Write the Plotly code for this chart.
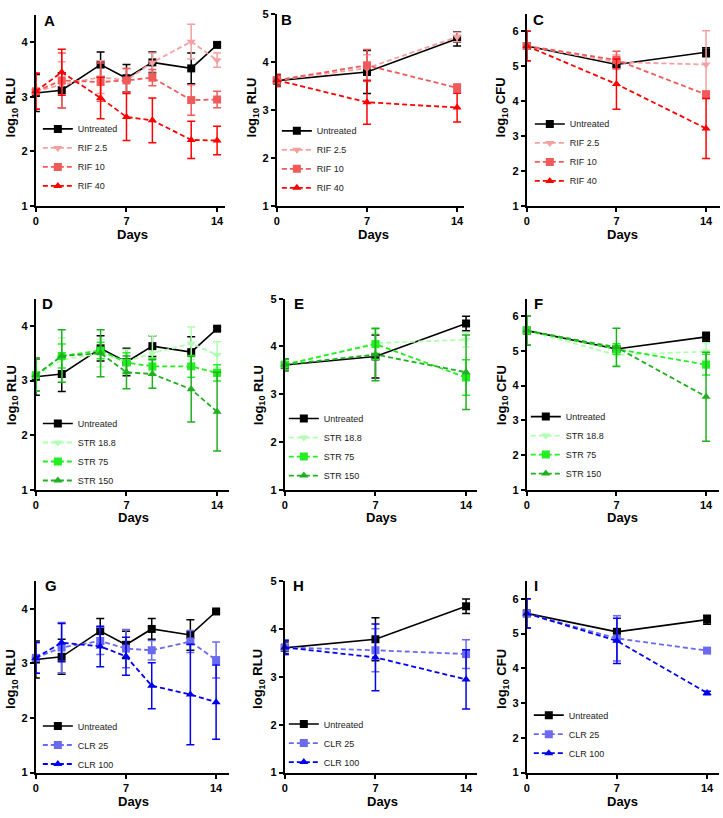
import plotly.graph_objects as go

# ---------------- data ----------------
days_long = [0, 2, 5, 7, 9, 12, 14]
days_short = [0, 7, 14]

# Untreated (shared across rows)
untr_rlu_long = [3.07, 3.12, 3.59, 3.34, 3.63, 3.52, 3.95]
untr_rlu_long_err = [0.34, 0.32, 0.23, 0.25, 0.19, 0.28, 0.03]
untr_rlu_short = [3.61, 3.79, 4.48]
untr_rlu_short_err = [0.12, 0.45, 0.15]
untr_cfu = [5.58, 5.05, 5.40]
untr_cfu_err = [0.42, 0.05, 0.13]

# Panel A (RIF, RLU long)
a_rif25 = [3.10, 3.22, 3.36, 3.30, 3.63, 4.01, 3.67]
a_rif25_err = [0.33, 0.42, 0.30, 0.22, 0.17, 0.32, 0.13]
a_rif10 = [3.10, 3.30, 3.27, 3.30, 3.35, 2.94, 2.95]
a_rif10_err = [0.33, 0.50, 0.35, 0.22, 0.15, 0.28, 0.15]
a_rif40 = [3.10, 3.45, 2.98, 2.63, 2.57, 2.21, 2.20]
a_rif40_err = [0.33, 0.42, 0.38, 0.43, 0.41, 0.34, 0.26]

# Panel B (RIF, RLU short)
b_rif25 = [3.62, 3.87, 4.52]
b_rif25_err = [0.12, 0.28, 0.10]
b_rif10 = [3.62, 3.93, 3.46]
b_rif10_err = [0.12, 0.33, 0.08]
b_rif40 = [3.62, 3.16, 3.05]
b_rif40_err = [0.12, 0.46, 0.30]

# Panel C (RIF, CFU)
c_rif25 = [5.58, 5.12, 5.05]
c_rif25_err = [0.42, 0.20, 0.97]
c_rif10 = [5.58, 5.18, 4.19]
c_rif10_err = [0.42, 0.25, 0.10]
c_rif40 = [5.58, 4.49, 3.22]
c_rif40_err = [0.42, 0.72, 0.86]

# Panel D (STR, RLU long)
d_str188 = [3.10, 3.38, 3.50, 3.35, 3.50, 3.68, 3.47]
d_str188_err = [0.29, 0.40, 0.25, 0.22, 0.32, 0.30, 0.24]
d_str75 = [3.10, 3.45, 3.55, 3.33, 3.26, 3.26, 3.14]
d_str75_err = [0.29, 0.22, 0.15, 0.18, 0.15, 0.20, 0.15]
d_str150 = [3.10, 3.45, 3.50, 3.15, 3.12, 2.84, 2.43]
d_str150_err = [0.29, 0.48, 0.43, 0.30, 0.26, 0.60, 0.72]

# Panel E (STR, RLU short)
e_str188 = [3.62, 4.07, 4.14]
e_str188_err = [0.12, 0.20, 0.15]
e_str75 = [3.62, 4.05, 3.35]
e_str75_err = [0.12, 0.32, 0.37]
e_str150 = [3.62, 3.83, 3.46]
e_str150_err = [0.12, 0.55, 0.78]

# Panel F (STR, CFU)
f_str188 = [5.58, 4.88, 4.98]
f_str188_err = [0.42, 0.30, 0.25]
f_str75 = [5.58, 5.05, 4.60]
f_str75_err = [0.42, 0.15, 0.30]
f_str150 = [5.58, 5.10, 3.68]
f_str150_err = [0.42, 0.55, 1.28]

# Panel G (CLR, RLU long)
g_clr25 = [3.10, 3.29, 3.41, 3.27, 3.24, 3.40, 3.06]
g_clr25_err = [0.28, 0.46, 0.25, 0.35, 0.18, 0.20, 0.33]
g_clr100 = [3.10, 3.38, 3.31, 3.13, 2.59, 2.43, 2.29]
g_clr100_err = [0.28, 0.35, 0.37, 0.35, 0.42, 0.92, 0.68]

# Panel H (CLR, RLU short)
h_clr25 = [3.62, 3.56, 3.48]
h_clr25_err = [0.15, 0.45, 0.30]
h_clr100 = [3.62, 3.41, 2.95]
h_clr100_err = [0.15, 0.70, 0.62]

# Panel I (CLR, CFU)
i_clr25 = [5.58, 4.86, 4.51]
i_clr25_err = [0.42, 0.65, 0.04]
i_clr100 = [5.58, 4.79, 3.29]
i_clr100_err = [0.42, 0.65, 0.05]

x_ticks = [0, 7, 14]
panel_letters = ["A", "B", "C", "D", "E", "F", "G", "H", "I"]
y_titles = ["log<sub>10</sub> RLU", "log<sub>10</sub> RLU", "log<sub>10</sub> CFU"] * 3
x_title = "Days"

# ---------------- styles ----------------
W, H = 723, 818
FONT = "Liberation Sans, Arial, sans-serif"
BLACK = "#000000"
C_RIF25, C_RIF10, C_RIF40 = "#f4a0a0", "#f05a5a", "#ff0000"
C_STR188, C_STR75, C_STR150 = "#b0ffb0", "#22ee22", "#1fb01f"
C_CLR25, C_CLR100 = "#6a6af0", "#0000ee"

# panel geometry (pixels): x0, x14, xend, ytop, ybot, ymax
geom = [
    (33, 215, 223, 9, 203, 4.5),
    (275, 456, 463, 8, 203, 5),
    (526, 706, 720, 8, 203, 6.5),
    (33, 215, 227, 297, 491, 4.5),
    (283, 465, 476, 297, 491, 5),
    (526, 706, 719, 297, 491, 6.5),
    (33, 214, 227, 584, 778, 4.5),
    (283, 465, 476, 584, 778, 5),
    (526, 707, 719, 584, 778, 6.5),
]
letter_pos = [(47, 15), (285, 14), (538, 14), (45, 302), (297, 302), (538, 302),
              (48, 588), (297, 588), (535, 588)]
legend_pos = [(41, 120), (281, 122), (535, 115), (41, 419), (288, 414), (531, 412),
              (41, 726), (288, 724), (534, 715)]
ytitle_pos = [(9, 103), (251, 103), (501, 103), (9, 395), (257, 395), (501, 395),
              (9, 683), (257, 683), (502, 683)]
xtitle_pos = [(130, 232), (372, 232), (622, 232), (131, 519), (380, 519), (622, 519),
              (131, 807), (381, 807), (622, 807)]

panels = [
    (days_long, untr_rlu_long, untr_rlu_long_err,
     [("RIF 2.5", a_rif25, a_rif25_err, C_RIF25, "triangle-down"),
      ("RIF 10", a_rif10, a_rif10_err, C_RIF10, "square"),
      ("RIF 40", a_rif40, a_rif40_err, C_RIF40, "triangle-up")]),
    (days_short, untr_rlu_short, untr_rlu_short_err,
     [("RIF 2.5", b_rif25, b_rif25_err, C_RIF25, "triangle-down"),
      ("RIF 10", b_rif10, b_rif10_err, C_RIF10, "square"),
      ("RIF 40", b_rif40, b_rif40_err, C_RIF40, "triangle-up")]),
    (days_short, untr_cfu, untr_cfu_err,
     [("RIF 2.5", c_rif25, c_rif25_err, C_RIF25, "triangle-down"),
      ("RIF 10", c_rif10, c_rif10_err, C_RIF10, "square"),
      ("RIF 40", c_rif40, c_rif40_err, C_RIF40, "triangle-up")]),
    (days_long, untr_rlu_long, untr_rlu_long_err,
     [("STR 18.8", d_str188, d_str188_err, C_STR188, "triangle-down"),
      ("STR 75", d_str75, d_str75_err, C_STR75, "square"),
      ("STR 150", d_str150, d_str150_err, C_STR150, "triangle-up")]),
    (days_short, untr_rlu_short, untr_rlu_short_err,
     [("STR 18.8", e_str188, e_str188_err, C_STR188, "triangle-down"),
      ("STR 75", e_str75, e_str75_err, C_STR75, "square"),
      ("STR 150", e_str150, e_str150_err, C_STR150, "triangle-up")]),
    (days_short, untr_cfu, untr_cfu_err,
     [("STR 18.8", f_str188, f_str188_err, C_STR188, "triangle-down"),
      ("STR 75", f_str75, f_str75_err, C_STR75, "square"),
      ("STR 150", f_str150, f_str150_err, C_STR150, "triangle-up")]),
    (days_long, untr_rlu_long, untr_rlu_long_err,
     [("CLR 25", g_clr25, g_clr25_err, C_CLR25, "square"),
      ("CLR 100", g_clr100, g_clr100_err, C_CLR100, "triangle-up")]),
    (days_short, untr_rlu_short, untr_rlu_short_err,
     [("CLR 25", h_clr25, h_clr25_err, C_CLR25, "square"),
      ("CLR 100", h_clr100, h_clr100_err, C_CLR100, "triangle-up")]),
    (days_short, untr_cfu, untr_cfu_err,
     [("CLR 25", i_clr25, i_clr25_err, C_CLR25, "square"),
      ("CLR 100", i_clr100, i_clr100_err, C_CLR100, "triangle-up")]),
]

fig = go.Figure()
layout = dict(width=W, height=H, margin=dict(l=0, r=0, t=0, b=0),
              paper_bgcolor="white", plot_bgcolor="white",
              font=dict(family=FONT, color=BLACK, size=11), annotations=[])

for k, (days, u, ue, series) in enumerate(panels):
    n = k + 1
    xa = "x" if n == 1 else f"x{n}"
    ya = "y" if n == 1 else f"y{n}"
    lg = "legend" if n == 1 else f"legend{n}"
    x0, x14, xend, ytop, ybot, ymax = geom[k]
    scale = (x14 - x0) / 14.0
    xmax = (xend - x0) / scale

    def add(name, xs, ys, es, color, sym, dash, width):
        fig.add_trace(go.Scatter(
            x=xs, y=ys, name=name, mode="lines+markers",
            xaxis=xa, yaxis=ya, legend=lg, cliponaxis=False,
            line=dict(color=color, width=width, dash=dash),
            marker=dict(symbol=sym, size=8, color=color),
            error_y=dict(type="data", array=es, visible=True, color=color,
                         thickness=1.5, width=4),
        ))

    add("Untreated", days, u, ue, BLACK, "square", "solid", 1.6)
    for name, ys, es, color, sym in series:
        add(name, days, ys, es, color, sym, "5px,3px", 1.8)

    key_x = "xaxis" if n == 1 else f"xaxis{n}"
    key_y = "yaxis" if n == 1 else f"yaxis{n}"
    layout[key_x] = dict(
        domain=[x0 / W, xend / W], range=[0, xmax], anchor=ya,
        tickvals=x_ticks, showline=True, linecolor=BLACK, linewidth=2,
        ticks="outside", ticklen=4, tickwidth=1.5, tickcolor=BLACK,
        showgrid=False, zeroline=False,
        tickfont=dict(size=11, family=FONT, weight="bold", color=BLACK),
    )
    layout[key_y] = dict(
        domain=[1 - ybot / H, 1 - ytop / H], range=[1, ymax], anchor=xa,
        dtick=1, showline=True, linecolor=BLACK, linewidth=2,
        ticks="outside", ticklen=4, tickwidth=1.5, tickcolor=BLACK,
        showgrid=False, zeroline=False,
        tickfont=dict(size=11, family=FONT, weight="bold", color=BLACK),
    )
    lx, ly = legend_pos[k]
    layout[lg] = dict(
        x=(lx - 6) / W, y=1 - (ly - 10) / H, xanchor="left", yanchor="top",
        bgcolor="rgba(0,0,0,0)", font=dict(size=9, family=FONT, color="#222222"),
        itemwidth=30, tracegroupgap=0,
    )
    px, py = letter_pos[k]
    layout["annotations"].append(dict(
        text=panel_letters[k], x=px / W, y=1 - py / H,
        xref="paper", yref="paper", showarrow=False, xanchor="center",
        yanchor="middle", font=dict(size=15, family=FONT, color=BLACK, weight="bold")))
    tx, ty = ytitle_pos[k]
    layout["annotations"].append(dict(
        text=y_titles[k], x=tx / W, y=1 - ty / H, textangle=-90,
        xref="paper", yref="paper", showarrow=False, xanchor="center",
        yanchor="middle", font=dict(size=13, family=FONT, color=BLACK, weight="bold")))
    tx, ty = xtitle_pos[k]
    layout["annotations"].append(dict(
        text=x_title, x=tx / W, y=1 - ty / H,
        xref="paper", yref="paper", showarrow=False, xanchor="center",
        yanchor="middle", font=dict(size=13, family=FONT, color=BLACK, weight="bold")))

fig.update_layout(**layout)
fig.write_html("out.html", config={"displayModeBar": False},
               post_script="document.body.style.margin='0';document.body.style.padding='0';")
